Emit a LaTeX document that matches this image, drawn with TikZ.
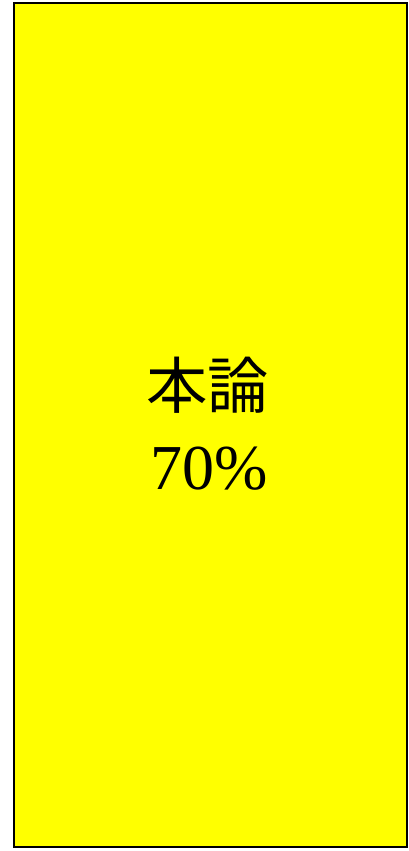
\documentclass[tikz,border=0pt]{standalone}
\usepackage{fontspec}
\setmainfont{Liberation Serif}
\newfontfamily\cjk{Noto Sans CJK JP}
\definecolor{pureyellow}{RGB}{255,255,0}
\begin{document}
\begin{tikzpicture}[x=0.75pt,y=0.75pt]
\useasboundingbox (0,0) rectangle (408,851);
\tikzset{box/.style={draw=black,line width=1.5pt,fill=pureyellow}}
\node[box,minimum width=393*0.75pt,minimum height=844*0.75pt,inner sep=0pt,anchor=south west] (main) at (13,3) {};
\node[anchor=center,inner sep=0pt] (t1) at (208,466) {\fontsize{46}{46}\selectfont\cjk 本論};
\node[anchor=center,inner sep=0pt] (t2) at (209,382) {\fontsize{48}{48}\selectfont 70\%};
\end{tikzpicture}
\end{document}
